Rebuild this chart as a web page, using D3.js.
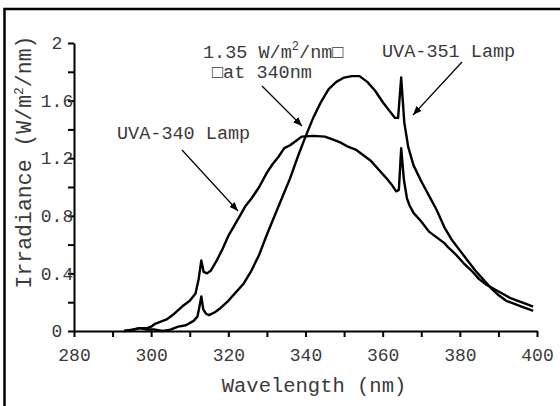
<!DOCTYPE html>
<html>
<head>
<meta charset="utf-8">
<script src="https://cdn.jsdelivr.net/npm/d3@7"></script>
<style>
  body { margin: 0; background: #fff; }
  text { font-family: "Courier New", "Liberation Mono", monospace; fill: #3a3a3a; }
</style>
</head>
<body>
<div id="chart"></div>
<script>
// UVA-340 lamp spectrum [wavelength nm, irradiance W/m2/nm]
var uva340 = [
  [293, 0.0], [295, 0.01], [297, 0.02], [299, 0.02], [300, 0.03], [301, 0.05],
  [302, 0.06], [304, 0.08], [306, 0.12], [308, 0.17], [310, 0.21], [311.5, 0.26],
  [312.3, 0.36], [313, 0.49], [313.6, 0.41], [314.5, 0.4], [315.5, 0.42], [317, 0.49],
  [318.5, 0.57], [320, 0.66], [321.5, 0.73], [323, 0.8], [324.5, 0.87], [326, 0.92],
  [328, 1.0], [330, 1.1], [331.5, 1.16], [333, 1.21], [334.5, 1.27], [336, 1.29],
  [337.5, 1.32], [339, 1.35], [342, 1.355], [345, 1.35], [347, 1.33], [349, 1.31],
  [351, 1.28], [353, 1.26], [355, 1.22], [357, 1.18], [359, 1.12], [361, 1.06],
  [362.5, 1.01], [363.5, 0.97], [364.2, 0.98], [364.8, 1.27], [365.5, 1.05], [366.3, 0.92],
  [367, 0.87], [368, 0.82], [370, 0.76], [372, 0.69], [374, 0.65], [376, 0.61],
  [377, 0.58], [379, 0.53], [381, 0.47], [383, 0.42], [385, 0.36], [387, 0.32],
  [389, 0.29], [391, 0.26], [393, 0.23], [395, 0.21], [397, 0.19], [399, 0.17]
];

// UVA-351 lamp spectrum
var uva351 = [
  [293, 0.0], [295, 0.005], [297, 0.02], [299, 0.01], [301, 0.01], [303, 0.0],
  [305, 0.01], [307, 0.03], [309, 0.04], [311, 0.07], [312, 0.1], [312.6, 0.18],
  [313, 0.24], [313.5, 0.15], [314.2, 0.12], [315, 0.11], [316.5, 0.13], [318, 0.16],
  [320, 0.21], [322, 0.27], [324, 0.33], [326, 0.42], [328, 0.53], [330, 0.67],
  [332, 0.8], [334, 0.93], [336, 1.06], [338, 1.21], [340, 1.35], [342, 1.48],
  [344, 1.59], [346, 1.68], [348, 1.73], [350, 1.76], [352, 1.77], [354, 1.77],
  [356, 1.73], [358, 1.67], [360, 1.59], [362, 1.52], [363.2, 1.48], [364, 1.48],
  [364.8, 1.76], [365.6, 1.45], [366.6, 1.28], [368, 1.15], [370, 1.04], [372, 0.94],
  [374, 0.84], [376, 0.72], [378, 0.63], [380, 0.56], [382, 0.49], [384, 0.42],
  [386, 0.36], [388, 0.3], [390, 0.25], [392, 0.21], [394, 0.19], [396, 0.17],
  [398, 0.15], [399, 0.14]
];

var xTicks = [280, 290, 300, 310, 320, 330, 340, 350, 360, 370, 380, 390, 400];
var xLabels = [280, 300, 320, 340, 360, 380, 400];
var yTicks = [0, 0.2, 0.4, 0.6, 0.8, 1.0, 1.2, 1.4, 1.6, 1.8, 2.0];
var yLabels = [0, 0.4, 0.8, 1.2, 1.6, 2.0];

var svgWidth = 560;
var svgHeight = 406;

var svg = d3.select("#chart")
  .append("svg")
  .attr("width", svgWidth)
  .attr("height", svgHeight);

// outer frame (runs off the right and bottom edges)
svg.append("rect")
  .attr("x", 4.5)
  .attr("y", 9)
  .attr("width", 600)
  .attr("height", 450)
  .attr("fill", "none")
  .attr("stroke", "#000")
  .attr("stroke-width", 2.5);

var xScale = d3.scaleLinear().domain([280, 400]).range([74, 537]);
var yScale = d3.scaleLinear().domain([0, 2]).range([331, 43]);

// axes
var xAxis = d3.axisBottom(xScale)
  .tickValues(xTicks)
  .tickSize(6)
  .tickSizeOuter(0)
  .tickFormat(function(d) { return xLabels.indexOf(d) >= 0 ? d : ""; });

var gx = svg.append("g")
  .attr("transform", "translate(0," + yScale(0) + ")")
  .call(xAxis);
gx.select(".domain").attr("stroke-width", 2);
gx.selectAll(".tick line").attr("stroke-width", 2);
gx.selectAll(".tick text")
  .attr("y", 30)
  .attr("dy", 0)
  .attr("font-size", 18)
  .attr("fill", "#3a3a3a");

var yAxis = d3.axisLeft(yScale)
  .tickValues(yTicks)
  .tickSize(6)
  .tickSizeOuter(0)
  .tickFormat(function(d) {
    return yLabels.some(function(v) { return Math.abs(v - d) < 1e-9; }) ? d3.format("")(+d.toFixed(1)) : "";
  });

var gy = svg.append("g")
  .attr("transform", "translate(" + xScale(280) + ",0)")
  .call(yAxis);
gy.select(".domain").attr("stroke-width", 2);
gy.selectAll(".tick line").attr("stroke-width", 2);
gy.selectAll(".tick text")
  .attr("x", -17)
  .attr("text-anchor", "middle")
  .attr("font-size", 18)
  .attr("fill", "#3a3a3a");

// curves
var line = d3.line()
  .x(function(d) { return xScale(d[0]); })
  .y(function(d) { return yScale(d[1]); });

[uva340, uva351].forEach(function(series) {
  svg.append("path")
    .datum(series)
    .attr("d", line)
    .attr("fill", "none")
    .attr("stroke", "#000")
    .attr("stroke-width", 2.4)
    .attr("stroke-linejoin", "round");
});

// axis titles
svg.append("text")
  .attr("x", 314)
  .attr("y", 392)
  .attr("text-anchor", "middle")
  .attr("font-size", 20.5)
  .text("Wavelength (nm)");

var yTitle = svg.append("text")
  .attr("transform", "translate(31,162) rotate(-90)")
  .attr("text-anchor", "middle")
  .attr("font-size", 21.5);
yTitle.append("tspan").text("Irradiance (W/m");
yTitle.append("tspan").attr("font-size", 13).attr("dy", -8).text("2");
yTitle.append("tspan").attr("dy", 8).text("/nm)");

// annotations
svg.append("defs").append("marker")
  .attr("id", "arrow")
  .attr("viewBox", "0 0 10 10")
  .attr("refX", 10)
  .attr("refY", 5)
  .attr("markerWidth", 9)
  .attr("markerHeight", 9)
  .attr("markerUnits", "userSpaceOnUse")
  .attr("orient", "auto")
  .append("path")
  .attr("d", "M0,1 L10,5 L0,9 Z")
  .attr("fill", "#000");

var arrows = [
  { x1: 182, y1: 150, x2: 238, y2: 211 },
  { x1: 262, y1: 86, x2: 302, y2: 126 },
  { x1: 462, y1: 62, x2: 413, y2: 115 }
];
svg.selectAll("line.arrow")
  .data(arrows)
  .join("line")
  .attr("class", "arrow")
  .attr("x1", function(d) { return d.x1; })
  .attr("y1", function(d) { return d.y1; })
  .attr("x2", function(d) { return d.x2; })
  .attr("y2", function(d) { return d.y2; })
  .attr("stroke", "#000")
  .attr("stroke-width", 1.2)
  .attr("marker-end", "url(#arrow)");

svg.append("text")
  .attr("x", 117)
  .attr("y", 139)
  .attr("font-size", 18.5)
  .text("UVA-340 Lamp");

svg.append("text")
  .attr("x", 382)
  .attr("y", 57)
  .attr("font-size", 18.5)
  .text("UVA-351 Lamp");

var note = svg.append("text")
  .attr("x", 203)
  .attr("y", 58)
  .attr("font-size", 18.5);
note.append("tspan").text("1.35 W/m");
note.append("tspan").attr("font-size", 12).attr("dy", -8).text("2");
note.append("tspan").attr("dy", 8).text("/nm\u25A1");

svg.append("text")
  .attr("x", 212)
  .attr("y", 78)
  .attr("font-size", 18.5)
  .text("\u25A1at 340nm");
</script>
</body>
</html>
